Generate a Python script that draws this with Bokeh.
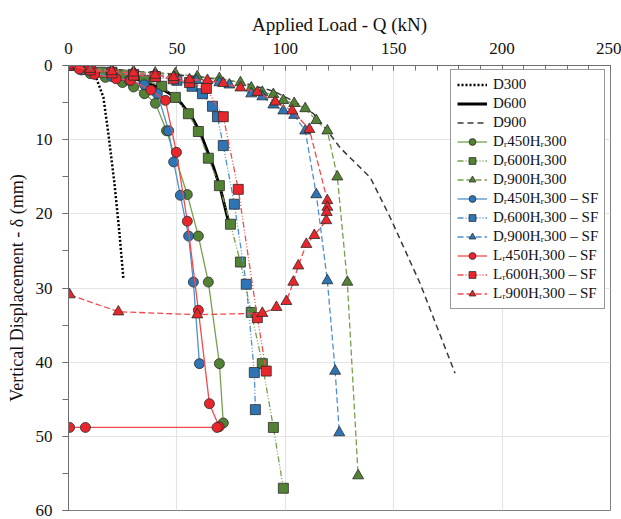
from bokeh.plotting import figure
from bokeh.models import Range1d, Legend, LegendItem, FixedTicker
from bokeh.embed import file_html
from bokeh.resources import INLINE

# ---------------- data (Q in kN, delta in mm) ----------------
d300_q = [0, 5, 10, 12.4, 16.1, 18.4, 21.2, 23.5, 25.3]
d300_d = [0, 0.3, 0.8, 1.35, 4.3, 9.2, 15.9, 22.6, 28.7]

d600_q = [0, 10, 20, 33, 42, 48, 52, 57, 61, 64, 67, 70, 74]
d600_d = [0, 0.4, 0.9, 2.0, 3.0, 4.0, 5.1, 7.0, 9.2, 11.5, 13.8, 16.5, 21.3]

d900_q = [0, 20, 40, 60, 80, 95, 105, 113, 119.4, 125.3, 139.2, 148.4, 162.2, 178.3]
d900_d = [0, 0.5, 1.0, 1.5, 2.3, 3.5, 5.0, 6.5, 8.8, 11.1, 15.1, 20.5, 29.4, 41.5]

g450_q = [0, 5.5, 10.1, 17, 24.9, 30, 35.0, 40.1, 45.2, 54.8, 59.9, 64.5, 69.6, 71.4]
g450_d = [0, 0.4, 1.1, 1.6, 2.3, 2.9, 3.8, 5.1, 8.8, 17.4, 23.0, 29.2, 40.2, 48.2]

g600_q = [0, 8, 15, 25, 35, 43, 49.3, 55.3, 59.9, 64.5, 69.6, 74.7, 79.3, 84.3, 89.4, 94.5, 99.1]
g600_d = [0, 0.5, 0.9, 1.3, 2.0, 2.8, 4.3, 6.5, 8.9, 12.5, 16.2, 21.4, 26.5, 33.3, 40.2, 48.8, 57.0]

g900_q = [0, 10, 20, 30, 40, 49.3, 59.4, 69.6, 79.3, 84.3, 89.4, 94.5, 99.1, 104.1, 109.2, 114.3, 119.4, 124.0, 128.6, 133.6]
g900_d = [0, 0.4, 0.6, 0.8, 1.0, 1.1, 1.5, 1.75, 2.3, 3.0, 3.6, 3.9, 4.7, 5.1, 5.8, 7.4, 8.8, 15.0, 29.2, 55.3]

b450_q = [0, 6, 12, 20, 28, 35, 41.0, 46.2, 48.5, 51.6, 55.4, 57.6, 60.4]
b450_d = [0, 0.6, 1.0, 1.5, 2.0, 2.6, 3.8, 8.8, 13.0, 17.5, 23.0, 29.2, 40.2]

b600_q = [0, 10, 20, 30, 40, 50, 57, 61.8, 66.4, 68.7, 71.4, 76.5, 82.0, 85.7, 86.2]
b600_d = [0, 0.5, 0.9, 1.2, 1.5, 2.0, 2.8, 3.8, 5.5, 6.9, 10.8, 18.7, 29.5, 41.4, 46.4]

b900_q = [0, 10, 20, 30, 40, 48.8, 59, 69.6, 74.2, 84.3, 89.4, 94.5, 99.1, 104.1, 109.2, 114.3, 119.4, 123.0, 124.9]
b900_d = [0, 0.5, 0.8, 1.1, 1.3, 1.6, 2.0, 2.3, 2.6, 3.8, 4.2, 5.3, 6.1, 6.7, 8.8, 17.4, 29.0, 41.2, 49.5]

r450_q = [0, 5, 12, 22, 28.6, 38, 44.7, 49.8, 54.8, 59.9, 65.0, 69.5, 68.5, 7.8, 0.5]
r450_d = [0, 0.5, 1.2, 1.8, 2.0, 3.3, 4.7, 11.7, 21.0, 33.0, 45.6, 48.7, 48.8, 48.8, 48.8]

r600_q = [0, 10, 20, 30, 40, 48.4, 55.8, 63.6, 71.4, 78.3, 87.1, 91.2]
r600_d = [0, 0.6, 1.0, 1.3, 1.5, 1.8, 2.3, 3.1, 6.9, 16.7, 34.0, 41.2]

r900_q = [0, 10, 20, 30, 40, 48.4, 55.8, 64.1, 71.4, 79.3, 87.1, 95.4, 103.2, 111.1, 119.4, 119.4, 119.1, 118.9,
          113.4, 109.7, 106.0, 103.7, 100.5, 95.9, 89.4, 59.4, 23.0, 0.5]
r900_d = [0, 0.5, 0.8, 1.0, 1.3, 1.6, 1.9, 2.0, 2.4, 3.0, 3.6, 4.9, 6.1, 8.6, 18.2, 19.1, 19.8, 20.9,
          22.9, 24.1, 27.0, 29.2, 31.8, 32.6, 33.4, 33.6, 33.2, 30.9]

labels = ["D300", "D600", "D900",
          "D\u1d63450H\u1d63300", "D\u1d63600H\u1d63300", "D\u1d63900H\u1d63300",
          "D\u1d63450H\u1d63300 \u2013 SF", "D\u1d63600H\u1d63300 \u2013 SF", "D\u1d63900H\u1d63300 \u2013 SF",
          "L\u1d63450H\u1d63300 \u2013 SF", "L\u1d63600H\u1d63300 \u2013 SF", "L\u1d63900H\u1d63300 \u2013 SF"]

FONT = "Liberation Serif"

p = figure(width=621, height=519, output_backend="svg", toolbar_location=None,
           x_range=Range1d(0, 250), y_range=Range1d(60, 0),
           x_axis_location="above", min_border_left=68, min_border_top=65,
           min_border_right=11, min_border_bottom=9)
p.outline_line_color = "#7f7f7f"
p.background_fill_color = "white"

# axes
xa = p.xaxis[0]
xa.ticker = FixedTicker(ticks=[0, 50, 100, 150, 200, 250],
                        minor_ticks=list(range(0, 251, 10)))
xa.axis_label = "Applied Load - Q (kN)"
ya = p.yaxis[0]
ya.ticker = FixedTicker(ticks=[0, 10, 20, 30, 40, 50, 60], minor_ticks=list(range(0, 61, 5)))
ya.axis_label = "Vertical Displacement - \u03b4 (mm)"
for ax in (xa, ya):
    ax.axis_label_text_font = FONT
    ax.axis_label_text_font_style = "normal"
    ax.axis_label_text_color = "#111111"
    ax.major_label_text_font = FONT
    ax.major_label_text_font_size = "17px"
    ax.major_label_text_color = "#111111"
    ax.axis_line_color = "#6f6f6f"
    ax.major_tick_line_color = "#6f6f6f"
    ax.minor_tick_line_color = "#6f6f6f"
xa.axis_label_text_font_size = "19px"
ya.axis_label_text_font_size = "18px"
xa.major_tick_in = 5
xa.major_tick_out = 0
xa.minor_tick_in = 5
xa.minor_tick_out = 0
xa.major_label_standoff = 12
xa.axis_label_standoff = 5
ya.major_tick_in = 0
ya.major_tick_out = 6
ya.minor_tick_in = 0
ya.minor_tick_out = 6
ya.major_label_standoff = 10
ya.axis_label_standoff = 6

p.xgrid.ticker = FixedTicker(ticks=[50, 100, 150, 200])
p.ygrid.ticker = FixedTicker(ticks=[10, 20, 30, 40, 50])
p.grid.grid_line_color = "#e4e4e4"
p.grid.grid_line_width = 1.2

GREEN_F, GREEN_L = "#548235", "#76A04E"
BLUE_F, BLUE_L = "#2E75B6", "#4F90D0"
RED_F, RED_L = "#E8262B", "#F24A4A"
SQ_DASH = "6 2 1 2 1 2"
TR_DASH = "6 3"

items = []

r1 = p.line(d300_q, d300_d, line_color="black", line_width=2.5, line_dash="2 2")
r2 = p.line(d600_q, d600_d, line_color="black", line_width=3)
r3 = p.line(d900_q, d900_d, line_color="#3a3a3a", line_width=1.5, line_dash="6 4")
items += [LegendItem(label=labels[0], renderers=[r1]),
          LegendItem(label=labels[1], renderers=[r2]),
          LegendItem(label=labels[2], renderers=[r3])]

series = [
    (g450_q, g450_d, GREEN_F, GREEN_L, "circle", "solid"),
    (g600_q, g600_d, GREEN_F, GREEN_L, "square", SQ_DASH),
    (g900_q, g900_d, GREEN_F, GREEN_L, "triangle", TR_DASH),
    (b450_q, b450_d, BLUE_F, BLUE_L, "circle", "solid"),
    (b600_q, b600_d, BLUE_F, BLUE_L, "square", SQ_DASH),
    (b900_q, b900_d, BLUE_F, BLUE_L, "triangle", TR_DASH),
    (r450_q, r450_d, RED_F, RED_L, "circle", "solid"),
    (r600_q, r600_d, RED_F, RED_L, "square", SQ_DASH),
    (r900_q, r900_d, RED_F, RED_L, "triangle", TR_DASH),
]
for i, (q, d, fc, lc, mk, dash) in enumerate(series):
    ln = p.line(q, d, line_color=lc, line_width=1.3, line_dash=dash)
    sc = p.scatter(q, d, marker=mk, size=10 if mk != "triangle" else 11,
                   fill_color=fc, line_color="#2b2b2b", line_width=0.8)
    items.append(LegendItem(label=labels[3 + i], renderers=[ln, sc]))

legend = Legend(items=items, location=(382, 201), orientation="vertical",
                label_text_font=FONT, label_text_font_size="15px", label_text_color="#111111",
                glyph_width=30, glyph_height=17, label_height=17, spacing=2,
                padding=6, label_standoff=6, margin=0,
                border_line_color="#333333", border_line_width=1.2,
                background_fill_color="white", background_fill_alpha=1)
p.add_layout(legend, "center")

open("out.html", "w").write(file_html(p, INLINE))
